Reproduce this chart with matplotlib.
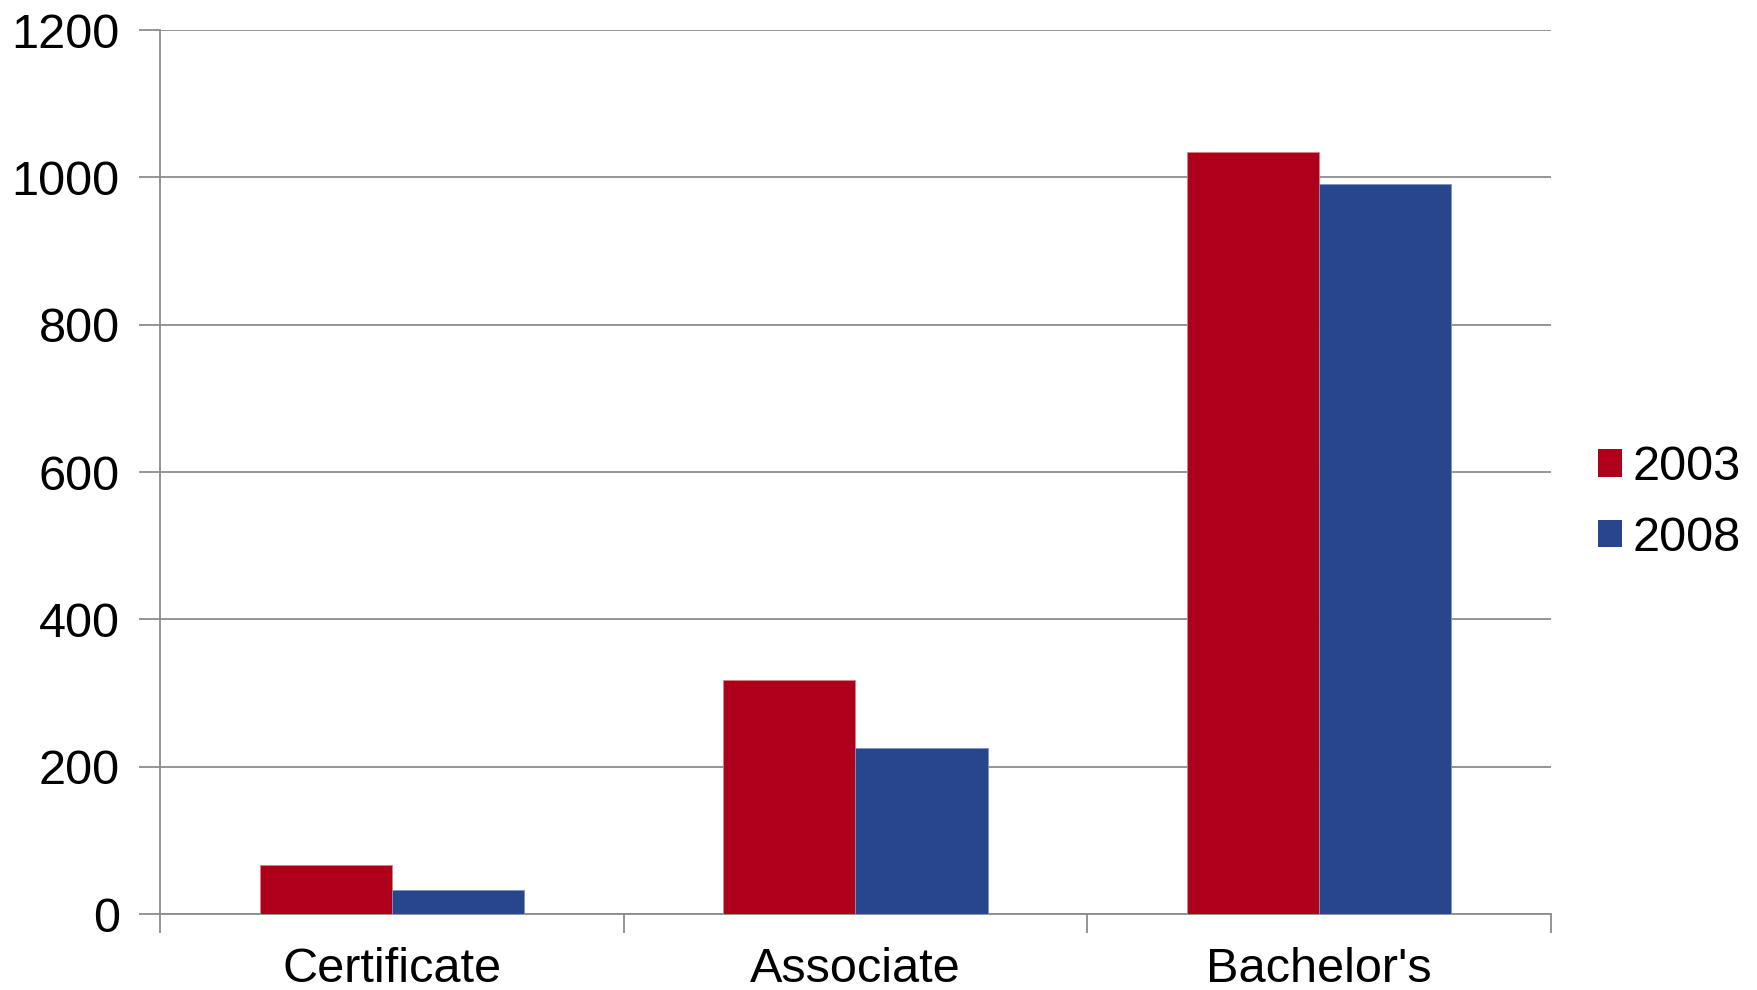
import matplotlib
matplotlib.use("Agg")
import matplotlib.pyplot as plt
import numpy as np
from matplotlib.patches import Patch

categories = ["Certificate", "Associate", "Bachelor's"]
series_names = ["2003", "2008"]
values_2003 = [67, 318, 1034]
values_2008 = [33, 226, 991]
yticks = [0, 200, 400, 600, 800, 1000, 1200]

colors = ["#AE001A", "#27468B"]
grid_color = "#8C8C8C"

plt.rcParams['font.family'] = ['Liberation Sans', 'DejaVu Sans']
FS = 35

fig = plt.figure(figsize=(17.58, 9.90), dpi=100)
ax = fig.add_axes([160/1758, 1-914/990, (1551-160)/1758, (914-30)/990])

x = np.arange(len(categories))
w = 0.285
ax.bar(x - w/2, values_2003, width=w, color=colors[0], edgecolor="#D9808C", linewidth=0.6, zorder=3)
ax.bar(x + w/2, values_2008, width=w, color=colors[1], edgecolor="#7F93C0", linewidth=0.6, zorder=3)

ax.set_xlim(-0.5, len(categories) - 0.5)
ax.set_ylim(0, 1200)
ax.set_yticks(yticks)
ax.set_yticklabels([str(t) for t in yticks], fontsize=FS)
ax.yaxis.grid(True, color=grid_color, linewidth=1.3, zorder=0)
ax.set_axisbelow(True)

ax.set_xticks(x)
ax.set_xticklabels(categories, fontsize=FS)
ax.tick_params(axis='x', length=0, pad=24)
ax.set_xticks(np.arange(len(categories) + 1) - 0.5, minor=True)
ax.tick_params(axis='x', which='minor', length=14, width=1.3, color=grid_color, direction='out')
ax.tick_params(axis='y', length=15, width=1.3, color=grid_color, pad=14)

for s in ['top', 'right']:
    ax.spines[s].set_visible(False)
for s in ['left', 'bottom']:
    ax.spines[s].set_color(grid_color)
    ax.spines[s].set_linewidth(1.3)

handles = [Patch(facecolor=colors[0], label=series_names[0]),
           Patch(facecolor=colors[1], label=series_names[1])]
leg = fig.legend(handles=handles, loc='center left', bbox_to_anchor=(1598/1758, 1-503/990),
                 frameon=False, fontsize=FS, handlelength=0.5, handleheight=0.5,
                 handletextpad=0.22, labelspacing=0.53, borderpad=0, borderaxespad=0)

fig.savefig("out.png", dpi=100)
